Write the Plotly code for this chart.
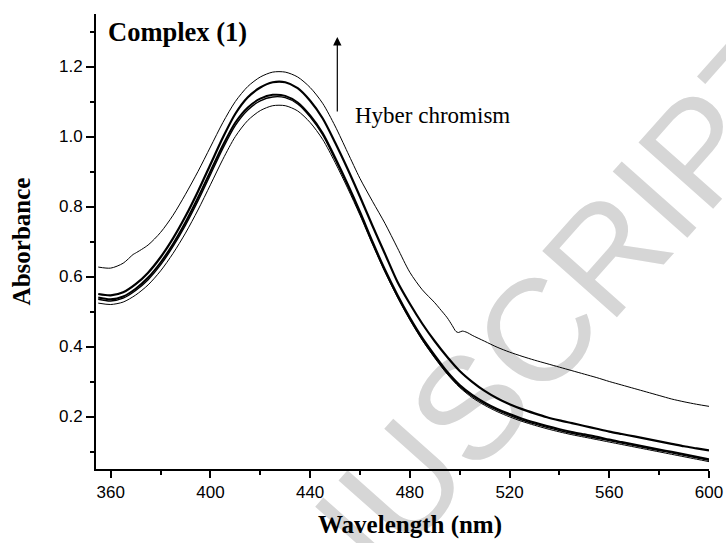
import plotly.graph_objects as go

# Wavelength grid (nm) for the four main spectra
wl = [355, 360, 365, 370, 375, 380, 385, 390, 395, 400, 405, 410, 415, 420, 425,
      430, 435, 440, 445, 450, 455, 460, 465, 470, 475, 480, 485, 490, 495, 500,
      505, 510, 515, 520, 525, 530, 535, 540, 545, 550, 555, 560, 565, 570, 575,
      580, 585, 590, 595, 600]

abs_b = [0.550, 0.546, 0.555, 0.578, 0.611, 0.655, 0.709, 0.772, 0.843, 0.920,
         0.997, 1.065, 1.112, 1.140, 1.155, 1.155, 1.138, 1.102, 1.052, 0.983,
         0.908, 0.828, 0.745, 0.665, 0.585, 0.522, 0.465, 0.415, 0.370, 0.330,
         0.299, 0.273, 0.252, 0.235, 0.221, 0.209, 0.198, 0.189, 0.181, 0.173,
         0.165, 0.157, 0.150, 0.143, 0.136, 0.129, 0.122, 0.115, 0.109, 0.103]

abs_c = [0.540, 0.535, 0.543, 0.565, 0.597, 0.640, 0.693, 0.755, 0.825, 0.900,
         0.975, 1.040, 1.083, 1.108, 1.119, 1.116, 1.097, 1.060, 1.010, 0.940,
         0.865, 0.785, 0.700, 0.620, 0.548, 0.483, 0.425, 0.375, 0.328, 0.290,
         0.262, 0.240, 0.222, 0.207, 0.194, 0.183, 0.173, 0.164, 0.156, 0.149,
         0.142, 0.134, 0.127, 0.120, 0.113, 0.106, 0.099, 0.092, 0.085, 0.078]

abs_d = [0.535, 0.530, 0.538, 0.560, 0.591, 0.633, 0.686, 0.747, 0.816, 0.891,
         0.966, 1.032, 1.076, 1.102, 1.113, 1.111, 1.093, 1.056, 1.005, 0.935,
         0.860, 0.780, 0.695, 0.615, 0.543, 0.478, 0.420, 0.370, 0.324, 0.286,
         0.258, 0.236, 0.218, 0.203, 0.190, 0.179, 0.169, 0.160, 0.152, 0.145,
         0.138, 0.131, 0.124, 0.117, 0.110, 0.103, 0.096, 0.089, 0.082, 0.075]

abs_e = [0.524, 0.520, 0.527, 0.547, 0.576, 0.616, 0.666, 0.724, 0.790, 0.862,
         0.935, 1.000, 1.046, 1.074, 1.088, 1.088, 1.073, 1.040, 0.992, 0.926,
         0.853, 0.775, 0.692, 0.613, 0.541, 0.476, 0.418, 0.367, 0.321, 0.283,
         0.254, 0.232, 0.214, 0.199, 0.186, 0.175, 0.165, 0.156, 0.148, 0.141,
         0.134, 0.127, 0.120, 0.113, 0.106, 0.099, 0.092, 0.085, 0.078, 0.071]

# Top spectrum (with scattering tail and the small step near 500 nm)
wl_a = [355, 360, 365, 369, 370, 375, 380, 385, 390, 395, 400, 405, 410, 415, 420,
        425, 430, 435, 440, 445, 450, 455, 460, 465, 470, 475, 480, 485, 490, 492,
        495, 497, 498.5, 499.5, 501, 503, 505, 510, 515, 520, 525, 530, 535, 540,
        545, 550, 555, 560, 565, 570, 575, 580, 585, 590, 595, 600]
abs_a = [0.627, 0.624, 0.638, 0.663, 0.667, 0.690, 0.726, 0.775, 0.835, 0.900,
         0.970, 1.040, 1.100, 1.143, 1.170, 1.184, 1.184, 1.170, 1.140, 1.095,
         1.030, 0.955, 0.880, 0.815, 0.752, 0.682, 0.612, 0.562, 0.525, 0.508,
         0.482, 0.460, 0.443, 0.440, 0.444, 0.440, 0.432, 0.415, 0.398, 0.384,
         0.372, 0.361, 0.351, 0.341, 0.331, 0.321, 0.311, 0.300, 0.290, 0.280,
         0.270, 0.260, 0.250, 0.242, 0.235, 0.229]

x_ticks = [360, 400, 440, 480, 520, 560, 600]
y_ticks = [0.2, 0.4, 0.6, 0.8, 1.0, 1.2]

fig = go.Figure()
series = [(wl_a, abs_a, 1.0), (wl, abs_b, 2.2), (wl, abs_c, 2.0),
          (wl, abs_d, 1.4), (wl, abs_e, 1.0)]
for xs, ys, w in series:
    fig.add_trace(go.Scatter(x=xs, y=ys, mode="lines",
                             line=dict(color="black", width=w, shape="spline", smoothing=0.8),
                             showlegend=False, hoverinfo="skip"))

serif = "Liberation Serif"
sans = "Liberation Sans"

fig.update_layout(
    width=726, height=543,
    margin=dict(l=96, r=17.3, t=13.5, b=74, autoexpand=False),
    paper_bgcolor="white", plot_bgcolor="white",
    showlegend=False,
    xaxis=dict(range=[354.1, 600], tickvals=x_ticks, ticktext=[str(v) for v in x_ticks],
               automargin=False,
               showline=True, linecolor="black", linewidth=2, showgrid=False, zeroline=False,
               ticks="outside", ticklen=7, tickwidth=1.5, tickcolor="black",
               minor=dict(ticks="outside", ticklen=4, tickwidth=1.5, tickcolor="black",
                          tick0=360, dtick=20),
               tickfont=dict(family=sans, size=17, color="black")),
    yaxis=dict(range=[0.05, 1.35], tickvals=y_ticks, ticktext=["%.1f" % v for v in y_ticks],
               automargin=False,
               showline=True, linecolor="black", linewidth=2, showgrid=False, zeroline=False,
               ticks="outside", ticklen=8, tickwidth=1.5, tickcolor="black",
               minor=dict(ticks="outside", ticklen=4, tickwidth=1.5, tickcolor="black",
                          tick0=0.1, dtick=0.1),
               tickfont=dict(family=sans, size=17, color="black"),
               title=dict(text="<b>Absorbance</b>", standoff=21,
                          font=dict(family=serif, size=25, color="black"))),
)

# Watermark behind the data
def px2paper(x, y):
    return (x - 96) / 612.7, (469 - y) / 455.5

x0, y0 = px2paper(395.6, 469.8)
x1, y1 = px2paper(528.4, 320.2)
fig.add_shape(type="line", xref="paper", yref="paper", x0=x0, y0=y0, x1=x1, y1=y1,
              line=dict(color="rgba(0,0,0,0)", width=0), layer="below",
              label=dict(text="MANUSCRIPT", textangle=-48.4, textposition="middle",
                         xanchor="center", yanchor="middle",
                         font=dict(family=sans, size=145, color="#d6d6d6")))

# X-axis title (slightly right of centre, as in the original)
tx, ty = px2paper(410, 525)
fig.add_annotation(x=tx, y=ty, xref="paper", yref="paper", text="<b>Wavelength (nm)</b>",
                   showarrow=False, xanchor="center", yanchor="middle",
                   font=dict(family=serif, size=25, color="black"))

fig.add_annotation(x=358.1, y=1.30, xref="x", yref="y", text="<b>Complex (1)</b>",
                   showarrow=False, xanchor="left", yanchor="middle",
                   font=dict(family=serif, size=26.5, color="black"))
fig.add_annotation(x=457.2, y=1.059, xref="x", yref="y", text="Hyber chromism",
                   showarrow=False, xanchor="left", yanchor="middle",
                   font=dict(family=serif, size=23, color="black"))
fig.add_annotation(x=450.9, y=1.284, ax=450.9, ay=1.067, xref="x", yref="y",
                   axref="x", ayref="y", text="", showarrow=True,
                   arrowhead=2, arrowsize=1.4, arrowwidth=1.2, arrowcolor="black")

fig.write_html("out.html")
